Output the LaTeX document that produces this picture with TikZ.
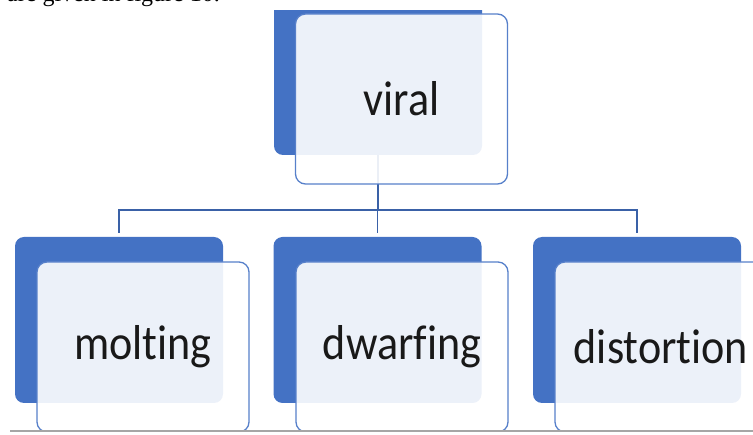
\documentclass[tikz,border=0pt]{standalone}
\usepackage{fontspec}
\setmainfont{Carlito}[RawFeature={-liga}]
\newfontfamily\bodyfont{Liberation Serif}
\definecolor{accent}{HTML}{4472C4}
\definecolor{rulegray}{HTML}{A6A6A6}
\newcommand{\boxtext}[1]{\scalebox{0.9}[1]{#1}}
\tikzset{
	back/.style={fill=accent, rounded corners=9pt, minimum width=208pt, minimum height=166pt, inner sep=0pt},
	front/.style={draw=accent!90, line width=1.3pt, fill=white, fill opacity=0.9, text opacity=1, text=black!90, rounded corners=10pt, minimum width=212pt, minimum height=170pt, inner sep=0pt, font=\fontsize{49}{55}\selectfont},
	link/.style={draw=accent!85!black, line width=1.6pt}
}
\begin{document}
\begin{tikzpicture}[x=1pt,y=-1pt]
	\useasboundingbox (0,0) rectangle (753,435);

	% text line above
	\node[anchor=base east, inner sep=0pt, font=\bodyfont\fontsize{24}{28}\selectfont] (caption) at (220,2) {are given in figure 10.};

	\begin{scope}
	\clip (0,11) rectangle (753,431);

	% blue backs
	\node[back] (viral-back) at (378,72) {};
	\node[back] (molting-back) at (119,320) {};
	\node[back] (dwarfing-back) at (377.5,320) {};
	\node[back] (distortion-back) at (637,320) {};

	% tree lines
	\coordinate (split) at (378,210);
	\draw[link] (viral-back.south) -- (split);
	\draw[link, shorten >=4pt] (split) -| (molting-back.north);
	\draw[link, shorten >=4pt] (split) -| (dwarfing-back.north);
	\draw[link, shorten >=4pt] (split) -| (distortion-back.north);

	% front boxes
	\node[front] (viral) at (401.5,99) {\boxtext{viral}};
	\node[front] (molting) at (143,347) {\boxtext{molting}};
	\node[front] (dwarfing) at (402,347) {\boxtext{dwarfing}};
	\node[front] (distortion) at (661,347) {\boxtext{distortion}};
	\end{scope}

	% page rule
	\draw[rulegray, line width=2pt] (10,431) -- (753,431);

\end{tikzpicture}
\end{document}
